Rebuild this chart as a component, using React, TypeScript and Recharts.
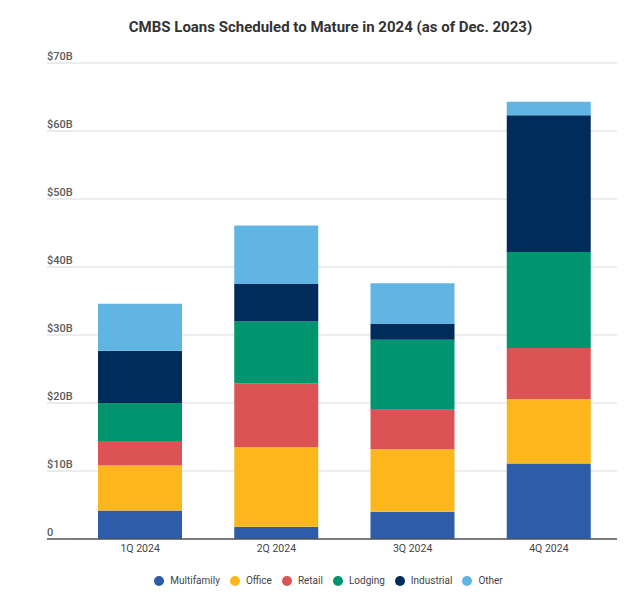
import { BarChart, Bar, XAxis, YAxis, CartesianGrid, Legend } from 'recharts'

// values in $B
const quarters = ['1Q 2024', '2Q 2024', '3Q 2024', '4Q 2024']
const multifamily = [4.2, 1.8, 4.0, 11.1]
const office = [6.6, 11.7, 9.2, 9.5]
const retail = [3.6, 9.4, 5.8, 7.5]
const lodging = [5.6, 9.1, 10.3, 14.1]
const industrial = [7.7, 5.5, 2.3, 20.1]
const other = [6.9, 8.6, 6.0, 2.0]
const yTicks = [0, 10, 20, 30, 40, 50, 60, 70]

const SERIES = [
  { key: 'Multifamily', values: multifamily, color: '#2d5ca9' },
  { key: 'Office', values: office, color: '#fdb71c' },
  { key: 'Retail', values: retail, color: '#dc5356' },
  { key: 'Lodging', values: lodging, color: '#00956f' },
  { key: 'Industrial', values: industrial, color: '#002c5c' },
  { key: 'Other', values: other, color: '#60b5e3' },
]

const data = quarters.map((q, i) => {
  const row: Record<string, string | number> = { quarter: q }
  SERIES.forEach(s => { row[s.key] = s.values[i] })
  return row
})

const FONT = 'Roboto, "Noto Sans", sans-serif'
const LABEL_X = 47

function YTick({ x, y, payload }: any) {
  const v = payload.value
  const zero = v === 0
  return (
    <g>
      <line x1={LABEL_X} x2={x + 8} y1={y} y2={y}
        stroke={zero ? '#555' : '#dcdcdc'} strokeWidth={zero ? 1.5 : 1.2} />
      <text x={LABEL_X} y={y - 3} textAnchor="start" fontSize={11} fontWeight={500}
        fill="#5a5a5a" fontFamily={FONT}>
        {zero ? '0' : `$${v}B`}
      </text>
    </g>
  )
}

// legend keeps the series order (recharts sorts the payload by name)
function LegendContent() {
  return (
    <div style={{ display: 'flex', justifyContent: 'center', alignItems: 'center', height: 39, paddingTop: 4, boxSizing: 'border-box', paddingLeft: 50 }}>
      {SERIES.map(s => (
        <div key={s.key} style={{ display: 'flex', alignItems: 'center', marginRight: 10 }}>
          <span style={{ width: 10, height: 10, borderRadius: '50%', background: s.color, marginRight: 6, display: 'inline-block' }} />
          <span style={{ fontSize: 10, color: '#444', fontFamily: FONT }}>{s.key}</span>
        </div>
      ))}
    </div>
  )
}

export default function App() {
  return (
    <div style={{ position: 'absolute', left: 0, top: 0, width: 640, height: 598, background: '#fff' }}>
      <div style={{
        position: 'absolute', top: 17, left: 0, width: 640, paddingLeft: 21, boxSizing: 'border-box',
        textAlign: 'center', fontFamily: FONT, fontWeight: 700, fontSize: 15, color: '#333', lineHeight: '21px',
      }}>
        CMBS Loans Scheduled to Mature in 2024 (as of Dec. 2023)
      </div>
      <BarChart width={640} height={598} data={data}
        margin={{ top: 63, right: 23, left: 0, bottom: 0 }}>
        <CartesianGrid vertical={false} stroke="#dcdcdc" strokeWidth={1.2} />
        <XAxis dataKey="quarter" tickLine={false} axisLine={{ stroke: '#555', strokeWidth: 1.5 }}
          height={20} tickMargin={0}
          tick={{ fontSize: 10.5, fill: '#444', fontFamily: FONT }} />
        <YAxis width={72} domain={[0, 70]} ticks={yTicks} axisLine={false} tickLine={false}
          interval={0} tick={<YTick />} />
        <Legend verticalAlign="bottom" content={<LegendContent />} />
        {SERIES.map(s => (
          <Bar key={s.key} dataKey={s.key} stackId="a" fill={s.color} barSize={84}
            isAnimationActive={false} />
        ))}
      </BarChart>
    </div>
  )
}
